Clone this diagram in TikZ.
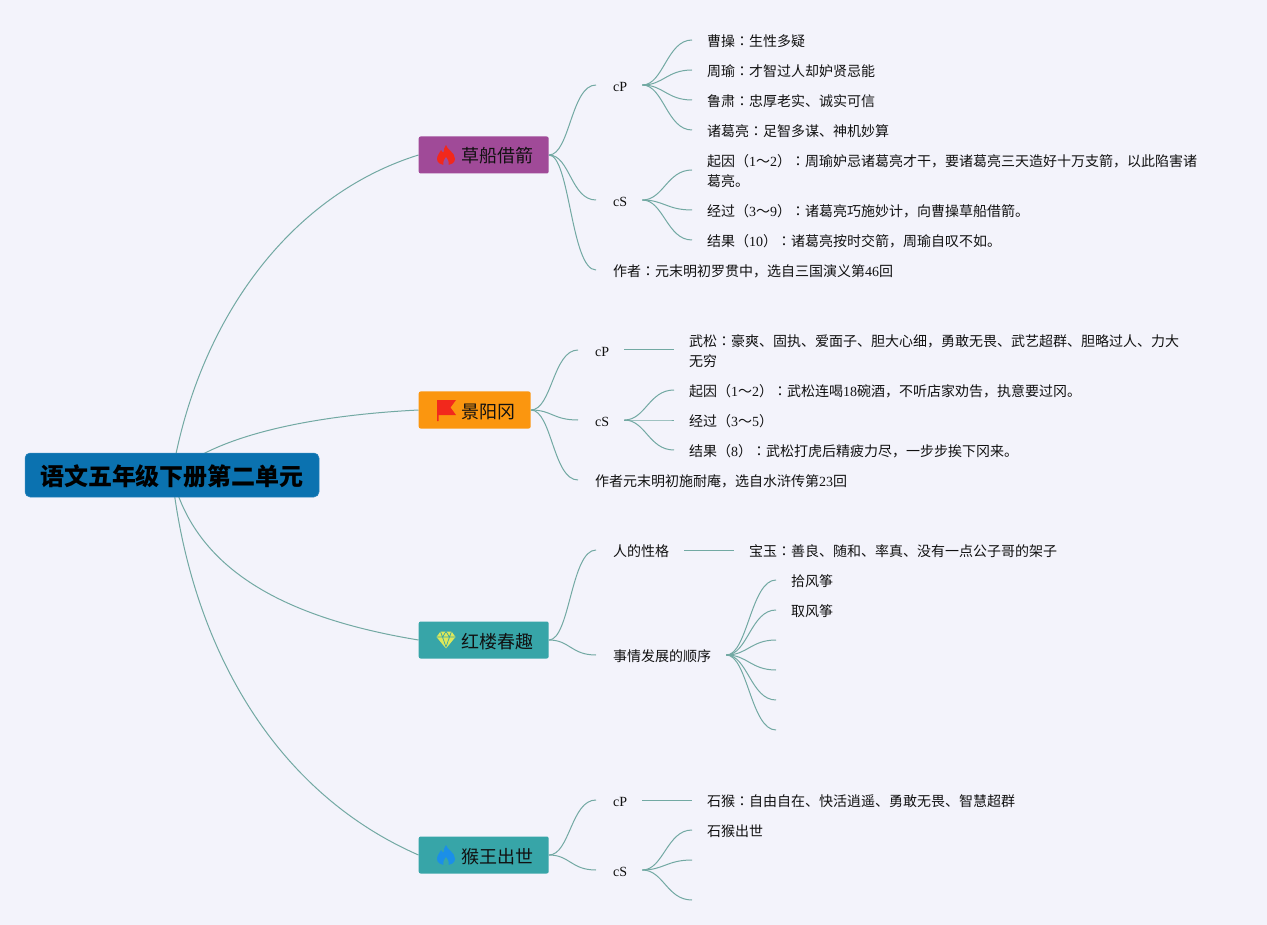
\documentclass[tikz,border=0pt]{standalone}
\usepackage{fontspec}
\setmainfont{Noto Sans CJK SC}
\newfontfamily\lat{Liberation Serif}
\newfontfamily\tcfont{Noto Sans CJK TC}
\newcommand{\cln}{{\tcfont ：}}
\newcommand{\twolines}[2]{\smash{\raisebox{10pt}{\vtop{\hbox{#1}\hbox{#2}}}}}
\usetikzlibrary{backgrounds}
\definecolor{bgc}{HTML}{F3F3FB}
\definecolor{linkc}{HTML}{72A9A3}
\definecolor{rootc}{HTML}{0B72B0}
\definecolor{purplec}{HTML}{A04A98}
\definecolor{orangec}{HTML}{FB960F}
\definecolor{tealc}{HTML}{37A5A8}
\definecolor{inkc}{HTML}{111111}
\definecolor{firered}{HTML}{F2281C}
\definecolor{fireblue}{HTML}{1B8FE8}
\definecolor{gemc}{HTML}{DDE85A}
\newcommand{\flameicon}[3]{%
  \begin{scope}[shift={(#1)}]
    \fill[#2] (0,-10) .. controls (1,-5) and (9,-3) .. (9,4)
      .. controls (9,8) and (5,10) .. (0,10)
      .. controls (-5,10) and (-9,8) .. (-9,4)
      .. controls (-9,0) and (-6,-2) .. (-5,-5)
      .. controls (-4,-3) and (-3,-3) .. (-2.5,-2.5)
      .. controls (-2,-5) and (-2,-8) .. (0,-10) -- cycle;
    \fill[#3] (0,2) .. controls (1,4) and (3.5,6) .. (2.5,10)
      -- (-2.5,10) .. controls (-3.5,6) and (-1,4) .. (0,2) -- cycle;
  \end{scope}}
\tikzset{
  x=1pt,y=-1pt,
  rootbox/.style={fill=rootc,draw=rootc!85!white,line width=0.5pt,rounded corners=5pt,minimum width=294pt,minimum height=44pt,inner sep=0pt,font=\fontsize{24}{28}\selectfont\bfseries,text=black,execute at begin node={\rule[-6pt]{0pt}{32pt}}},
  branchbox/.style={anchor=west,rounded corners=2pt,minimum height=37pt,inner ysep=0pt,inner xsep=15pt,text=inkc,font=\fontsize{18}{22}\selectfont,execute at begin node={\rule[-6pt]{0pt}{28pt}}},
  leaf/.style={anchor=west,inner xsep=15pt,inner ysep=3pt,text=inkc,font=\fontsize{14}{20}\selectfont,execute at begin node={\rule[-6pt]{0pt}{25pt}}},
  head/.style={leaf,inner xsep=16pt,execute at begin node={\hspace*{1pt}},execute at end node={\hspace*{-1pt}}},
  link/.style={draw=linkc,line width=1pt}
}
\begin{document}
\begin{tikzpicture}
\useasboundingbox (0,0) rectangle (1267,925);
\node[rootbox] (root) at (172,475) {语文五年级下册第二单元};
% branches
\node[branchbox,fill=purplec] (n1) at (418.5,155) {\hspace*{28pt}草船借箭};
\node[branchbox,fill=orangec] (n2) at (418.5,410) {\hspace*{28pt}景阳冈};
\node[branchbox,fill=tealc] (n3) at (418.5,640) {\hspace*{28pt}红楼春趣};
\node[branchbox,fill=tealc] (n4) at (418.5,855) {\hspace*{28pt}猴王出世};
% branch 1
\node[head] (a1) at (596,85) {{\lat cP}};
\node[leaf] (a11) at (692,40) {曹操\cln 生性多疑};
\node[leaf] (a12) at (692,70) {周瑜\cln 才智过人却妒贤忌能};
\node[leaf] (a13) at (692,100) {鲁肃\cln 忠厚老实、诚实可信};
\node[leaf] (a14) at (692,130) {诸葛亮\cln 足智多谋、神机妙算};
\node[head] (a2) at (596,200) {{\lat cS}};
\node[leaf] (a21) at (692,170) {\twolines{起因（{\lat 1}～{\lat 2}）\cln 周瑜妒忌诸葛亮才干，要诸葛亮三天造好十万支箭，以此陷害诸}{葛亮。}};
\node[leaf] (a22) at (692,210) {经过（{\lat 3}～{\lat 9}）\cln 诸葛亮巧施妙计，向曹操草船借箭。};
\node[leaf] (a23) at (692,240) {结果（{\lat 10}）\cln 诸葛亮按时交箭，周瑜自叹不如。};
\node[head] (a3) at (596,270) {作者\cln 元末明初罗贯中，选自三国演义第{\lat 46}回};
% branch 2
\node[head] (b1) at (578,350) {{\lat cP}};
\node[leaf] (b11) at (674,350) {\twolines{武松\cln 豪爽、固执、爱面子、胆大心细，勇敢无畏、武艺超群、胆略过人、力大}{无穷}};
\node[head] (b2) at (578,420) {{\lat cS}};
\node[leaf] (b21) at (674,390) {起因（{\lat 1}～{\lat 2}）\cln 武松连喝{\lat 18}碗酒，不听店家劝告，执意要过冈。};
\node[leaf] (b22) at (674,420) {经过（{\lat 3}～{\lat 5}）};
\node[leaf] (b23) at (674,450) {结果（{\lat 8}）\cln 武松打虎后精疲力尽，一步步挨下冈来。};
\node[head] (b3) at (578,480) {作者元末明初施耐庵，选自水浒传第{\lat 23}回};
% branch 3
\node[head] (c1) at (596,550) {人的性格};
\node[leaf] (c11) at (734,550) {宝玉\cln 善良、随和、率真、没有一点公子哥的架子};
\node[head] (c2) at (596,655) {事情发展的顺序};
\node[leaf] (c21) at (776,580) {拾风筝};
\node[leaf] (c22) at (776,610) {取风筝};
\coordinate (c23) at (776,640);
\coordinate (c24) at (776,670);
\coordinate (c25) at (776,700);
\coordinate (c26) at (776,730);
% branch 4
\node[head] (d1) at (596,800) {{\lat cP}};
\node[leaf] (d11) at (692,800) {石猴\cln 自由自在、快活逍遥、勇敢无畏、智慧超群};
\node[head] (d2) at (596,870) {{\lat cS}};
\node[leaf] (d21) at (692,830) {石猴出世};
\coordinate (d22) at (692,860);
\coordinate (d23) at (692,900);
% icons
\flameicon{446,155}{firered}{purplec}
\flameicon{446,855}{fireblue}{tealc}
\fill[firered] (437,400) -- (456,400) -- (450.5,407.5) -- (456,415) -- (438.5,415) -- (438.5,421) -- (437,421) -- cycle;
\begin{scope}[shift={(446,640)}]
  \fill[gemc] (-5.5,-8.5) -- (5.5,-8.5) -- (9.5,-3) -- (0,8.5) -- (-9.5,-3) -- cycle;
  \draw[tealc,line width=0.7pt] (-9,-3) -- (9,-3) (-5.5,-8.5) -- (-3.5,-3) -- (0,-8.5) -- (3.5,-3) -- (5.5,-8.5) (-3.5,-3) -- (0,7) -- (3.5,-3);
\end{scope}
\begin{scope}[on background layer]
  \fill[bgc] (0,0) rectangle (1267,925);
  \draw[link] (root.center) .. controls (198,320) and (290,195) .. (n1.west);
  \draw[link] (root.center) .. controls (218,433) and (320,415) .. (n2.west);
  \draw[link] (root.center) .. controls (195,570) and (285,618) .. (n3.west);
  \draw[link] (root.center) .. controls (190,640) and (270,790) .. (n4.west);
  \foreach \s/\t in {n1/a1,n1/a2,n1/a3,n2/b1,n2/b2,n2/b3,n3/c1,n3/c2,n4/d1,n4/d2}
    \draw[link] (\s.east) .. controls +(21,0) and +(-25,0) .. (\t.west);
  \foreach \s/\t in {a1/a11,a1/a12,a1/a13,a1/a14,a2/a21,a2/a22,a2/a23,b2/b21,b2/b22,b2/b23,c2/c21,c2/c22,d2/d21}
    \draw[link] (\s.east) .. controls +(21,0) and +(-25,0) .. (\t.west);
  \foreach \s/\t in {c2/c23,c2/c24,c2/c25,c2/c26,d2/d22,d2/d23}
    \draw[link] (\s.east) .. controls +(21,0) and +(-25,0) .. (\t);
  \foreach \s/\t in {b1/b11,c1/c11,d1/d11}
    \draw[link] (\s.east) -- (\t.west);
\end{scope}
\end{tikzpicture}
\end{document}
